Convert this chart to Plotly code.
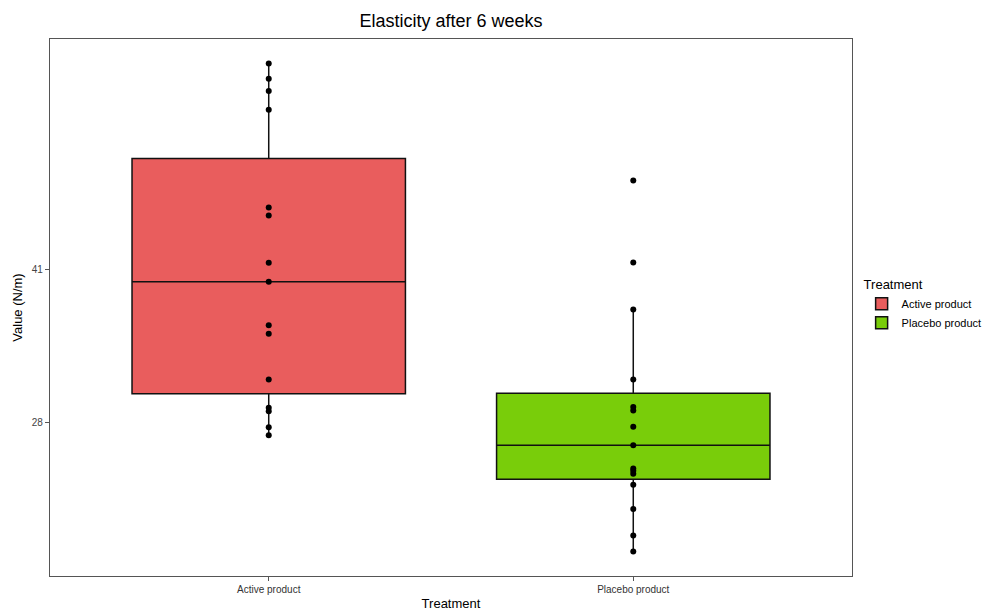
import plotly.graph_objects as go

# Elasticity readings (N/m) after 6 weeks, one value per participant
categories = ["Active product", "Placebo product"]
active_values = [58.5, 57.2, 56.15, 54.57, 46.27, 45.59, 41.57, 39.95,
                 36.27, 35.54, 31.65, 29.25, 28.96, 27.6, 26.92]
placebo_values = [48.56, 41.6, 37.6, 31.65, 29.32, 29.02, 27.64, 26.08,
                  24.1, 23.9, 23.65, 22.71, 20.67, 18.4, 17.04]
y_tick_values = [28, 41]
y_tick_labels = ["28", "41"]

fill_colors = {"Active product": "#E95D5D", "Placebo product": "#79CD0A"}
font_family = "Liberation Sans, Arial, sans-serif"

fig = go.Figure()
for name, vals in zip(categories, [active_values, placebo_values]):
    fig.add_trace(go.Box(
        x=[name] * len(vals),
        y=vals,
        name=name,
        boxpoints="all",
        jitter=0,
        pointpos=0,
        width=0.75,
        whiskerwidth=0,
        fillcolor=fill_colors[name],
        line=dict(color="#111111", width=1.5),
        marker=dict(color="black", size=6),
        quartilemethod="inclusive",
    ))

fig.update_layout(
    width=984,
    height=611,
    margin=dict(l=50, r=132, t=39, b=35, autoexpand=False),
    paper_bgcolor="white",
    plot_bgcolor="white",
    font=dict(family=font_family, color="#222"),
    boxmode="overlay",
    title=dict(text="Elasticity after 6 weeks", x=451 / 984,
               xanchor="center", y=1 - 21 / 611, yanchor="middle",
               font=dict(size=18, color="black")),
    showlegend=True,
    legend=dict(
        title=dict(text="Treatment", font=dict(size=13, color="black")),
        x=1.012, xanchor="left", y=0.505, yanchor="middle",
        font=dict(size=11, color="black"),
        itemwidth=30,
        tracegroupgap=2,
        bgcolor="rgba(0,0,0,0)",
    ),
)

fig.update_xaxes(
    title=dict(text="Treatment", font=dict(size=13, color="black"), standoff=6),
    automargin=False,
    type="category",
    categoryorder="array",
    categoryarray=categories,
    range=[-0.6, 1.6],
    showline=True, linecolor="#555", linewidth=1.2, mirror=True,
    ticks="outside", ticklen=4, tickcolor="#555",
    tickfont=dict(size=10, color="#333"),
    showgrid=False, zeroline=False,
)

fig.update_yaxes(
    title=dict(text="Value (N/m)", font=dict(size=13, color="black"), standoff=6),
    automargin=False,
    range=[14.97, 60.57],
    tickmode="array",
    tickvals=y_tick_values,
    ticktext=y_tick_labels,
    showline=True, linecolor="#555", linewidth=1.2, mirror=True,
    ticks="outside", ticklen=4, tickcolor="#555",
    tickfont=dict(size=10, color="#444"),
    showgrid=False, zeroline=False,
)

fig.write_html("out.html")
